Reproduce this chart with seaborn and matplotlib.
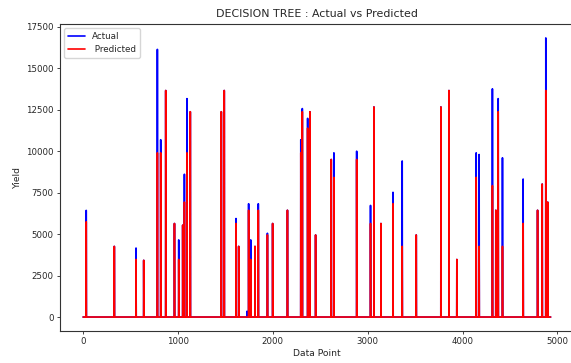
import numpy as np
import pandas as pd
import seaborn as sns
import matplotlib
matplotlib.use("Agg")
import matplotlib.pyplot as plt

# number of test points
n_points = 4930

# data point index of each spike, with actual and predicted yield there
spike_index = [33, 329, 558, 639, 783, 818, 871, 963, 1008, 1050, 1068, 1095, 1130,
               1457, 1488, 1612, 1640, 1728, 1745, 1767, 1812, 1847, 1943, 1998, 2154,
               2295, 2311, 2367, 2391, 2451, 2616, 2644, 2884, 3030, 3066, 3140, 3267,
               3364, 3512, 3772, 3857, 3940, 4144, 4175, 4315, 4351, 4376, 4421, 4639,
               4791, 4840, 4878, 4898]
actual_yield = [6430, 4260, 4160, 3420, 16140, 10690, 13660, 5640, 4650, 5540, 8610, 13170, 12380,
                12380, 13660, 5940, 4260, 350, 6830, 4650, 4260, 6830, 5050, 5640, 6440,
                10690, 12570, 11980, 12380, 4950, 9500, 9900, 10000, 6730, 12670, 5640, 7520,
                9410, 4950, 12670, 13660, 3470, 9900, 9800, 13760, 6440, 13170, 9600, 8320,
                6440, 8020, 16830, 6930]
predicted_yield = [5740, 4260, 3470, 3420, 9900, 9900, 13660, 5640, 3470, 5540, 6930, 9900, 12380,
                   12380, 13660, 5640, 4260, 0, 6440, 3470, 4260, 6440, 4950, 5640, 6440,
                   9900, 12380, 11390, 12380, 4950, 9500, 8420, 9500, 5640, 12670, 5640, 6830,
                   4260, 4950, 12670, 13660, 3470, 8420, 4260, 7920, 6440, 12380, 4260, 5640,
                   6440, 8020, 13660, 6930]

actual = np.zeros(n_points)
predicted = np.zeros(n_points)
actual[spike_index] = actual_yield
predicted[spike_index] = predicted_yield
df = pd.DataFrame({"point": np.arange(n_points), "actual": actual, "predicted": predicted})

sns.set_style("white")
plt.rcParams["font.family"] = ["DejaVu Sans"]

fig = plt.figure(figsize=(5.71, 3.63), dpi=100)
# axes runs slightly past the right edge, as in the cropped original
ax = fig.add_axes([0.1046, 0.0882, 0.9007, 0.8457])
sns.lineplot(data=df, x="point", y="actual", color="blue", label="Actual", lw=1.2, ax=ax)
sns.lineplot(data=df, x="point", y="predicted", color="red", label=" Predicted", lw=1.2, ax=ax)
ax.set_title("DECISION TREE : Actual vs Predicted", fontsize=7.9, pad=5)
ax.set_xlabel("Data Point", fontsize=6.6, labelpad=2)
ax.set_ylabel("Yield", fontsize=6.6, labelpad=3)
ax.tick_params(axis="both", labelsize=6.2, length=2.5, width=0.6, left=True, bottom=True, pad=2)
ax.set_xticks([0, 1000, 2000, 3000, 4000, 5000])
ax.legend(loc="upper left", fontsize=6.3)
for s in ax.spines.values():
    s.set_color("#333333")
    s.set_linewidth(0.8)

fig.savefig("out.png", dpi=100)
